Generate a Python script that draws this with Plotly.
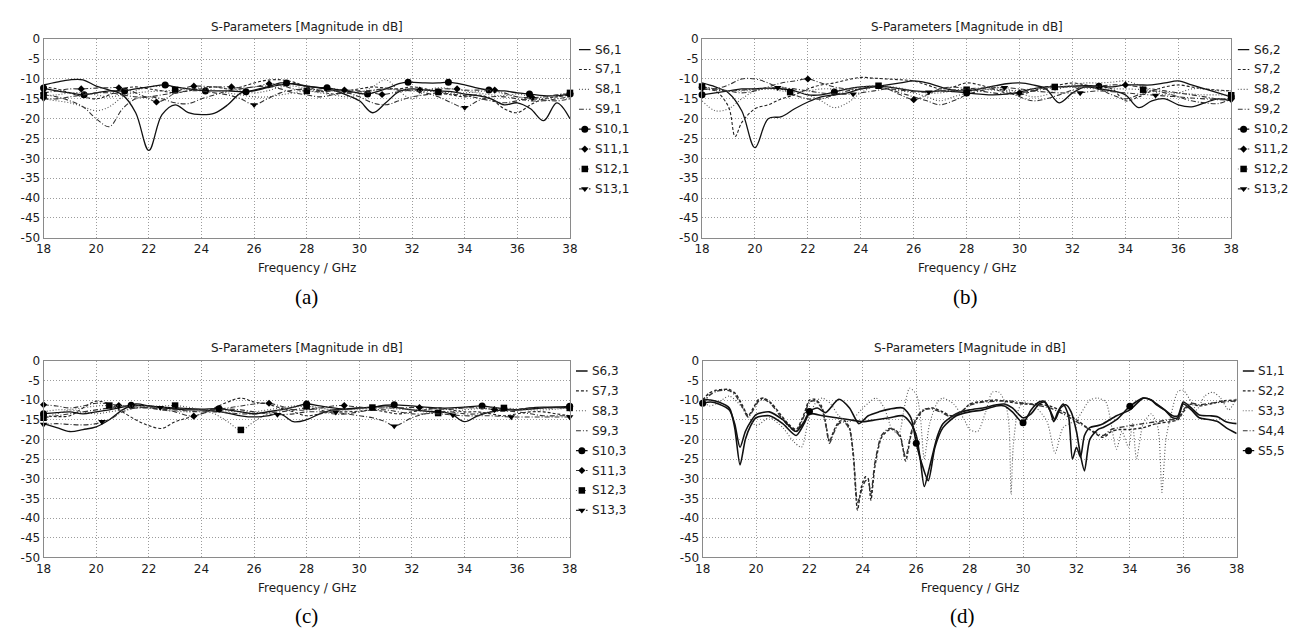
import plotly.graph_objects as go

W, H = 1299, 637
FONT = "DejaVu Sans"

# ---------------- data ----------------
freq = [18.0, 18.5, 19.0, 19.5, 20.0, 20.5, 21.0, 21.5, 22.0, 22.5,
        23.0, 23.5, 24.0, 24.5, 25.0, 25.5, 26.0, 26.5, 27.0, 27.5,
        28.0, 28.5, 29.0, 29.5, 30.0, 30.5, 31.0, 31.5, 32.0, 32.5,
        33.0, 33.5, 34.0, 34.5, 35.0, 35.5, 36.0, 36.5, 37.0, 37.5, 38.0]

x_ticks = [18, 20, 22, 24, 26, 28, 30, 32, 34, 36, 38]
y_ticks = [0, -5, -10, -15, -20, -25, -30, -35, -40, -45, -50]

# panel (a)
a_s6 = [-11.5, -10.8, -10.2, -10.2, -11.8, -12.8, -14.0, -18.5, -28.0, -19.0,
        -16.5, -18.5, -19.0, -18.6, -16.5, -13.5, -13.0, -12.2, -11.5, -11.2,
        -11.8, -12.3, -12.8, -14.0, -15.5, -18.5, -16.0, -13.2, -12.5, -12.8,
        -13.0, -13.2, -13.8, -14.2, -15.0, -16.5, -16.0, -17.5, -20.5, -16.0, -20.0]
a_s7 = [-12.0, -12.5, -13.5, -14.5, -15.0, -14.0, -12.5, -12.0, -12.5, -13.0,
        -13.5, -13.0, -12.5, -12.0, -12.5, -12.0, -11.0, -10.3, -10.2, -10.8,
        -12.0, -13.0, -13.8, -13.0, -12.5, -12.0, -12.3, -12.5, -12.0, -12.5,
        -13.5, -14.0, -14.5, -14.0, -15.0, -17.5, -18.5, -16.5, -15.0, -14.5, -14.0]
a_s8 = [-15.0, -15.5, -16.0, -17.0, -18.0, -17.0, -14.5, -13.0, -12.0, -11.8,
        -12.0, -12.5, -12.2, -12.0, -12.5, -13.0, -13.5, -13.0, -12.0, -11.8,
        -12.5, -13.0, -12.5, -13.0, -13.5, -12.0, -10.2, -13.0, -15.0, -13.0,
        -12.2, -12.5, -13.0, -13.5, -14.0, -14.2, -13.8, -14.5, -15.0, -14.5, -14.0]
a_s9 = [-14.0, -14.5, -15.5, -17.0, -20.0, -22.0, -17.5, -15.0, -14.5, -15.0,
        -16.0, -16.2, -15.0, -14.0, -13.0, -12.5, -12.0, -11.8, -12.5, -13.5,
        -14.0, -14.5, -14.0, -13.5, -14.5, -16.0, -16.5, -15.5, -14.5, -14.0,
        -13.5, -13.8, -14.2, -14.8, -15.5, -16.0, -15.5, -15.0, -15.3, -15.5, -15.0]
a_s10 = [-12.3, -13.0, -13.5, -14.0, -13.5, -13.0, -13.0, -12.5, -12.0, -11.5,
         -12.0, -12.5, -13.0, -13.0, -13.0, -13.2, -12.8, -12.0, -11.0, -11.3,
         -11.8, -12.2, -12.5, -13.0, -13.6, -13.5, -12.5, -11.2, -10.8, -11.0,
         -11.0, -11.0, -11.5, -12.3, -12.8, -13.0, -13.5, -14.0, -14.2, -14.2, -13.8]
a_s11 = [-13.5, -13.0, -12.5, -12.5, -12.3, -12.2, -12.3, -13.5, -15.0, -15.5,
         -13.5, -12.0, -11.8, -12.0, -12.0, -12.3, -12.0, -11.3, -11.5, -12.5,
         -13.0, -13.2, -13.0, -12.8, -13.0, -13.5, -13.8, -13.2, -12.8, -12.8,
         -12.5, -12.5, -12.8, -12.8, -12.8, -13.5, -14.5, -14.7, -14.5, -14.0, -13.7]
a_s12 = [-14.2, -14.0, -13.5, -13.5, -14.0, -14.5, -14.0, -13.5, -13.2, -13.0,
         -12.8, -12.5, -12.5, -12.8, -13.5, -14.0, -14.5, -14.5, -14.0, -13.5,
         -13.0, -13.5, -14.0, -14.5, -14.0, -13.0, -12.5, -12.5, -12.8, -13.0,
         -13.3, -13.5, -13.5, -13.2, -13.0, -13.8, -14.5, -15.0, -14.5, -14.0, -13.5]
a_s13 = [-15.0, -15.0, -14.5, -14.0, -13.5, -13.5, -14.0, -14.5, -14.5, -14.0,
         -13.5, -13.0, -13.0, -13.5, -14.0, -15.0, -16.5, -15.0, -13.5, -12.8,
         -12.5, -12.8, -13.0, -13.5, -13.2, -12.8, -12.5, -12.8, -13.0, -13.5,
         -14.5, -16.0, -17.2, -15.5, -14.5, -14.5, -15.0, -15.5, -15.5, -15.0, -14.5]
a_s10_mf = [18, 19.54, 21.08, 22.62, 24.15, 25.69, 27.23, 28.77, 30.31, 31.85, 33.38, 34.92, 36.46, 38]
a_s10_mv = [-12.3, -14.0, -13.0, -11.5, -13.0, -13.2, -11.0, -12.2, -13.8, -10.8, -10.8, -12.8, -13.8, -13.8]
a_s11_mf = [18, 19.43, 20.86, 22.29, 23.71, 25.14, 26.57, 28, 29.43, 30.86, 32.29, 33.71, 35.14, 36.57, 38]
a_s11_mv = [-13.5, -12.5, -12.2, -15.8, -11.8, -12.0, -11.2, -13.0, -12.8, -13.9, -12.8, -12.5, -12.8, -14.7, -13.7]
a_s12_mf = [18, 23, 28, 33, 38]
a_s12_mv = [-14.2, -12.8, -13.0, -13.3, -13.5]
a_s13_mf = [18, 26, 34]
a_s13_mv = [-15.0, -16.5, -17.2]

# panel (b)
b_s6 = [-11.0, -12.0, -13.5, -18.0, -27.3, -20.0, -19.5, -17.5, -15.8, -14.5,
        -14.0, -13.5, -12.5, -12.0, -11.5, -11.0, -10.5, -11.0, -12.0, -12.8,
        -13.0, -12.5, -11.8, -11.2, -11.0, -11.5, -12.5, -16.0, -13.5, -12.0,
        -12.5, -13.0, -14.0, -17.2, -15.5, -15.0, -16.5, -17.0, -16.0, -15.0, -15.5]
b_s7 = [-12.5, -13.0, -17.0, -21.0, -17.5, -16.5, -15.0, -14.0, -12.5, -11.5,
        -11.0, -10.2, -9.6, -9.8, -10.0, -10.2, -10.5, -11.5, -12.5, -12.0,
        -11.0, -11.5, -12.5, -13.5, -14.0, -13.0, -12.0, -11.5, -11.0, -11.5,
        -12.0, -12.5, -15.5, -14.5, -13.0, -12.0, -11.5, -12.0, -12.5, -12.8, -13.0]
b_s7_xf = [19.25]
b_s7_xv = [-24.5]
b_s8 = [-15.5, -18.0, -17.5, -15.0, -13.0, -12.5, -12.0, -13.0, -14.0, -15.5,
        -17.2, -16.0, -13.5, -12.0, -12.5, -13.0, -13.5, -14.5, -15.5, -14.5,
        -13.5, -12.5, -12.0, -12.5, -13.5, -14.5, -14.0, -12.5, -11.5, -11.0,
        -11.0, -10.8, -10.5, -11.5, -13.0, -14.0, -13.5, -12.5, -12.5, -13.0, -13.0]
b_s9 = [-12.5, -12.5, -11.5, -10.0, -10.0, -11.0, -12.5, -14.0, -15.0, -15.0,
        -14.0, -13.0, -12.5, -12.0, -12.5, -13.5, -14.5, -15.5, -16.5, -15.5,
        -14.0, -13.0, -12.5, -13.0, -14.5, -15.5, -15.0, -14.0, -12.8, -12.0,
        -12.5, -14.0, -15.0, -14.0, -13.0, -13.5, -14.5, -15.5, -16.0, -16.2, -15.0]
b_s10 = [-14.0, -13.5, -13.0, -12.5, -12.5, -12.3, -12.5, -13.0, -14.0, -14.0,
         -13.3, -12.5, -12.0, -11.8, -12.0, -12.5, -13.0, -13.2, -13.0, -13.2,
         -13.5, -13.8, -14.0, -13.8, -13.3, -12.5, -12.0, -12.0, -11.8, -11.7,
         -11.8, -12.0, -11.5, -11.5, -11.5, -11.0, -10.5, -11.5, -12.5, -13.5, -14.5]
b_s11 = [-12.0, -12.5, -13.0, -13.5, -13.0, -12.0, -11.0, -10.5, -10.0, -11.0,
         -12.0, -12.5, -12.5, -12.0, -12.5, -14.0, -15.2, -14.0, -12.5, -12.0,
         -12.5, -13.0, -13.5, -13.8, -13.5, -13.0, -12.5, -12.0, -12.0, -12.0,
         -11.8, -11.5, -11.5, -12.0, -12.5, -13.0, -13.5, -14.0, -14.5, -15.0, -15.0]
b_s12 = [-11.9, -12.5, -13.0, -13.0, -12.8, -12.5, -13.0, -13.5, -13.0, -12.5,
         -12.5, -12.5, -12.0, -11.7, -11.8, -12.3, -13.0, -13.5, -13.5, -13.0,
         -12.7, -12.5, -12.8, -13.0, -12.8, -12.5, -12.2, -12.0, -12.0, -12.3,
         -12.5, -12.5, -12.5, -12.7, -13.0, -13.3, -13.5, -13.8, -14.0, -14.0, -14.1]
b_s13 = [-12.5, -12.8, -13.0, -12.8, -12.5, -12.3, -12.2, -12.5, -13.0, -13.5,
         -13.8, -13.8, -13.5, -13.0, -12.5, -12.8, -13.2, -13.3, -13.0, -12.8,
         -12.5, -12.3, -12.2, -12.2, -12.5, -13.0, -13.3, -13.5, -13.5, -13.3,
         -13.0, -13.2, -13.5, -13.8, -14.1, -14.3, -14.5, -14.8, -15.0, -15.2, -15.3]
b_s10_mf = [18, 23, 28, 33, 38]
b_s10_mv = [-14.0, -13.3, -13.5, -11.8, -14.5]
b_s11_mf = [18, 22, 26, 30, 34, 38]
b_s11_mv = [-12.0, -10.0, -15.2, -13.5, -11.5, -15.0]
b_s12_mf = [18, 21.33, 24.67, 28, 31.33, 34.67, 38]
b_s12_mv = [-11.9, -13.3, -11.7, -12.7, -12.0, -12.7, -14.1]
b_s13_mf = [18, 20.86, 23.71, 26.57, 29.43, 32.29, 35.14, 38]
b_s13_mv = [-12.5, -12.2, -13.8, -13.3, -12.2, -13.5, -14.1, -15.3]

# panel (c)
c_s6 = [-16.0, -17.0, -18.0, -17.5, -16.8, -15.0, -12.5, -11.0, -11.5, -12.0,
        -12.3, -12.5, -12.5, -12.8, -13.3, -14.0, -14.3, -14.0, -13.5, -15.5,
        -15.0, -13.5, -12.5, -12.3, -12.0, -11.8, -11.5, -12.0, -12.5, -12.8,
        -13.0, -13.5, -15.5, -14.0, -13.0, -12.5, -12.5, -12.0, -11.8, -11.8, -12.0]
c_s7 = [-14.0, -14.2, -14.0, -12.0, -10.3, -11.0, -13.0, -15.0, -16.5, -17.2,
        -15.5, -14.5, -13.5, -12.0, -10.5, -9.5, -10.5, -11.0, -12.0, -13.0,
        -14.0, -13.5, -13.0, -13.0, -12.8, -12.5, -13.0, -13.5, -13.0, -12.5,
        -12.0, -12.5, -13.0, -13.0, -13.5, -14.0, -13.5, -13.0, -13.0, -13.5, -14.0]
c_s8 = [-13.0, -12.5, -12.5, -13.0, -13.5, -13.0, -12.5, -12.0, -12.0, -12.5,
        -12.8, -13.0, -12.8, -12.5, -12.8, -13.0, -13.0, -12.5, -12.0, -11.5,
        -11.5, -12.0, -12.5, -12.5, -12.3, -12.0, -11.8, -12.0, -12.3, -12.5,
        -12.5, -12.3, -12.0, -12.0, -12.3, -12.5, -12.5, -12.3, -12.0, -12.0, -12.0]
c_s9 = [-14.5, -14.0, -13.5, -13.0, -12.5, -12.0, -11.5, -11.5, -12.0, -12.3,
        -12.5, -12.8, -13.0, -13.0, -13.2, -13.5, -13.5, -13.2, -13.0, -12.5,
        -12.0, -12.5, -13.5, -13.5, -13.0, -12.5, -12.5, -13.0, -13.5, -13.5,
        -13.0, -13.0, -13.5, -13.5, -13.0, -12.8, -13.0, -13.5, -14.0, -14.0, -14.0]
c_s10 = [-13.5, -13.2, -13.0, -13.5, -13.0, -12.5, -11.8, -11.3, -11.5, -11.8,
         -12.0, -12.2, -12.3, -12.2, -12.5, -13.0, -13.5, -13.0, -12.5, -11.8,
         -11.0, -11.5, -12.0, -12.3, -12.0, -11.8, -11.3, -11.2, -11.5, -11.8,
         -12.0, -12.0, -11.8, -11.5, -11.8, -12.2, -12.5, -12.3, -12.0, -11.8, -11.6]
c_s11 = [-11.2, -11.5, -12.0, -11.5, -10.8, -11.0, -11.5, -12.0, -12.0, -12.5,
         -13.0, -14.0, -13.5, -12.5, -12.0, -11.5, -11.0, -10.8, -11.5, -12.5,
         -12.5, -12.0, -11.5, -11.4, -11.8, -12.0, -12.0, -12.0, -11.9, -12.0,
         -12.3, -12.3, -12.0, -12.0, -12.4, -12.5, -12.3, -12.0, -12.0, -12.0, -12.0]
c_s12 = [-14.5, -13.5, -12.5, -12.0, -11.5, -11.4, -11.5, -11.5, -11.5, -11.5,
         -11.4, -11.8, -12.5, -13.5, -15.5, -17.6, -15.5, -13.5, -12.5, -11.8,
         -11.6, -12.0, -12.5, -12.5, -12.2, -11.9, -12.0, -12.3, -12.5, -13.0,
         -13.3, -13.0, -12.5, -12.2, -12.0, -12.0, -12.3, -12.5, -12.5, -12.3, -12.0]
c_s13 = [-16.2, -16.0, -16.2, -16.3, -16.0, -15.0, -13.0, -12.0, -11.8, -11.9,
         -12.0, -12.3, -12.5, -12.5, -12.3, -12.5, -13.0, -13.5, -13.8, -13.5,
         -13.0, -13.0, -13.1, -13.5, -14.0, -14.5, -15.5, -16.3, -14.5, -13.5,
         -13.5, -13.8, -14.0, -14.0, -14.0, -14.2, -14.3, -14.3, -14.3, -14.3, -14.3]
c_s10_mf = [18, 21.33, 24.67, 28, 31.33, 34.67, 38]
c_s10_mv = [-13.5, -11.3, -12.2, -11.0, -11.2, -11.5, -11.6]
c_s11_mf = [18, 20.86, 23.71, 26.57, 29.43, 32.29, 35.14, 38]
c_s11_mv = [-11.2, -11.4, -14.1, -10.8, -11.4, -11.9, -12.4, -12.0]
c_s12_mf = [18, 20.5, 23, 25.5, 28, 30.5, 33, 35.5, 38]
c_s12_mv = [-14.5, -11.4, -11.4, -17.6, -11.6, -11.9, -13.3, -12.0, -12.0]
c_s13_mf = [18, 20.22, 22.44, 24.67, 26.89, 29.11, 31.33, 33.56, 35.78, 38]
c_s13_mv = [-16.2, -15.5, -11.9, -12.4, -13.7, -13.1, -16.6, -13.8, -14.3, -14.3]

# panel (d)
d_s1_f = [18, 18.3, 18.6, 19.0, 19.2, 19.4, 19.6, 19.8, 20.0, 20.5,
          21.0, 21.5, 21.8, 22.0, 22.5, 23.0, 23.5, 24.0, 24.5, 25.0,
          25.5, 25.8, 26.0, 26.15, 26.3, 26.5, 26.8, 27.0, 27.5, 28.0,
          28.5, 29.0, 29.3, 29.6, 30.0, 30.3, 30.6, 30.8, 31.0, 31.15,
          31.3, 31.5, 31.7, 31.85, 32.0, 32.15, 32.3, 32.5, 32.8, 33.0,
          33.5, 34.0, 34.5, 34.8, 35.0, 35.3, 35.6, 35.8, 36.0, 36.3,
          36.6, 37.0, 37.3, 37.6, 38.0]
d_s1_v = [-9.8, -10.0, -10.5, -12.0, -17.0, -26.5, -20.0, -16.5, -14.5, -14.0,
          -16.0, -19.0, -16.0, -13.5, -14.0, -14.5, -15.0, -15.5, -15.0, -14.5,
          -14.0, -16.0, -19.0, -25.0, -32.0, -27.0, -19.0, -16.0, -13.5, -12.5,
          -12.0, -11.2, -11.0, -12.0, -14.5, -13.5, -11.0, -10.5, -12.5, -15.5,
          -13.0, -11.0, -14.0, -25.0, -22.0, -24.5, -19.0, -17.0, -16.5, -16.0,
          -14.0, -12.5, -9.5, -10.0, -11.0, -12.5, -14.5, -14.5, -11.0, -12.5,
          -14.5, -15.0, -15.5, -17.0, -18.5]
d_s5_f = [18, 18.3, 18.6, 19.0, 19.2, 19.4, 19.6, 19.8, 20.0, 20.5,
          21.0, 21.5, 21.8, 22.0, 22.3, 22.6, 23.1, 23.5, 23.85, 24.2,
          24.6, 25.0, 25.5, 25.8, 26.0, 26.2, 26.45, 26.7, 27.0, 27.5,
          28.0, 28.5, 29.0, 29.3, 29.6, 30.0, 30.3, 30.6, 30.8, 31.0,
          31.2, 31.4, 31.6, 31.8, 32.0, 32.15, 32.3, 32.5, 32.8, 33.0,
          33.5, 34.0, 34.5, 34.8, 35.0, 35.3, 35.6, 35.8, 36.0, 36.3,
          36.6, 37.0, 37.3, 37.6, 38.0]
d_s5_v = [-10.8, -10.5, -11.0, -12.5, -16.0, -22.0, -18.0, -15.5, -13.7, -13.0,
          -15.0, -18.0, -15.5, -12.9, -12.0, -13.2, -9.8, -12.0, -16.0, -14.0,
          -13.0, -12.3, -12.0, -14.5, -21.0, -26.0, -30.5, -22.0, -17.0, -14.0,
          -13.0, -12.5, -11.5, -11.5, -13.0, -15.8, -12.5, -10.5, -10.3, -12.5,
          -15.0, -12.0, -11.2, -13.0, -18.0, -24.0, -28.0, -20.0, -17.5, -17.0,
          -15.0, -11.6, -9.5, -10.0, -11.2, -12.5, -14.0, -14.0, -10.5, -12.0,
          -13.8, -14.0, -14.3, -15.5, -16.0]
d_s5_mf = [18, 22, 26, 30, 34]
d_pair_f = [18, 18.25, 18.5, 18.75, 19.0, 19.25, 19.5, 19.7, 19.9, 20.1,
            20.3, 20.6, 20.9, 21.2, 21.5, 21.8, 22.0, 22.2, 22.45, 22.6,
            22.75, 22.9, 23.1, 23.3, 23.5, 23.65, 23.8, 23.95, 24.1, 24.2,
            24.3, 24.45, 24.7, 25.0, 25.2, 25.4, 25.6, 25.8, 26.0, 26.3,
            26.6, 27.0, 27.3, 27.7, 28.0, 28.5, 29.0, 29.5, 30.0, 30.5,
            31.0, 31.5, 32.0, 32.5, 33.0, 33.3, 33.6, 34.0, 34.5, 35.0,
            35.5, 35.8, 36.0, 36.3, 36.6, 37.0, 37.5, 38.0]
d_s2_v = [-10.0, -8.2, -7.5, -7.3, -7.3, -8.5, -11.5, -14.0, -12.0, -9.8,
          -9.5, -11.0, -13.5, -16.0, -17.5, -13.5, -10.0, -9.8, -11.5, -15.5,
          -20.5, -18.0, -15.5, -15.2, -17.0, -25.0, -38.0, -32.0, -29.5, -30.0,
          -35.5, -27.0, -19.5, -17.5, -17.5, -19.0, -25.5, -19.0, -15.0, -12.5,
          -12.0, -13.0, -14.0, -13.0, -11.0, -10.3, -10.0, -10.5, -11.0, -11.0,
          -11.5, -13.0, -15.0, -17.5, -19.5, -18.0, -17.5, -17.5, -17.0, -16.0,
          -15.5, -15.0, -13.0, -11.0, -11.5, -11.0, -10.2, -10.0]
d_s4_v = [-11.0, -8.8, -7.8, -7.5, -7.6, -9.0, -12.0, -14.3, -12.5, -10.2,
          -9.8, -11.3, -14.0, -16.5, -18.0, -14.0, -10.5, -10.2, -12.0, -16.0,
          -21.0, -18.5, -16.0, -15.6, -17.5, -24.0, -36.0, -33.0, -30.5, -30.5,
          -34.0, -26.0, -19.0, -17.2, -17.8, -19.5, -24.5, -18.5, -14.5, -12.3,
          -12.3, -13.3, -14.3, -12.8, -11.3, -10.5, -10.3, -10.2, -10.8, -11.3,
          -12.0, -13.5, -15.5, -17.5, -19.0, -17.5, -17.0, -16.5, -16.0, -15.5,
          -15.0, -14.8, -12.5, -10.8, -11.2, -10.8, -10.5, -10.2]
d_s3_f = [18, 18.25, 18.5, 19.0, 19.5, 20.0, 20.5, 21.0, 21.4, 21.7,
          22.0, 22.3, 22.5, 22.8, 23.1, 23.5, 24.0, 24.5, 24.8, 25.1,
          25.35, 25.55, 25.75, 26.0, 26.15, 26.3, 26.5, 26.8, 27.0, 27.4,
          27.8, 28.0, 28.3, 28.6, 28.85, 29.1, 29.35, 29.48, 29.55, 29.63,
          29.8, 30.0, 30.5, 30.9, 31.2, 31.5, 32.0, 32.5, 32.8, 33.1,
          33.5, 33.7, 33.95, 34.1, 34.25, 34.5, 34.8, 35.05, 35.2, 35.35,
          35.55, 35.8, 36.0, 36.3, 36.5, 36.8, 37.1, 37.4, 37.7, 38.0]
d_s3_v = [-10.0, -11.5, -11.0, -9.0, -12.0, -16.5, -14.5, -17.0, -20.5, -22.0,
          -14.0, -10.0, -9.5, -11.0, -14.0, -15.5, -12.0, -9.5, -12.0, -17.5,
          -18.5, -12.0, -7.0, -8.5, -14.0, -25.0, -16.0, -10.5, -9.5, -11.0,
          -15.0, -17.5, -18.0, -13.0, -8.0, -8.0, -11.0, -17.0, -34.0, -22.0,
          -13.0, -10.5, -12.0, -15.5, -23.5, -17.0, -15.0, -10.0, -9.5, -10.5,
          -22.5, -18.0, -22.0, -16.0, -25.0, -16.0, -13.5, -17.0, -33.5, -20.0,
          -13.5, -7.8, -7.5, -10.5, -12.5, -9.0, -8.0, -9.5, -12.5, -9.5]

# ---------------- styles ----------------
ST = {
    "solid":  dict(dash="solid", width=1.3, color="#111111"),
    "dash":   dict(dash="3px,2px", width=1.1, color="#222222"),
    "dot":    dict(dash="1px,2px", width=1.1, color="#555555"),
    "dashdot": dict(dash="5px,2px,1px,2px", width=1.1, color="#333333"),
}


def merge(gf, gv, mf, mv):
    if mf:
        keep = [(f, v) for f, v in zip(gf, gv) if min(abs(f - m) for m in mf) > 0.2]
    else:
        keep = list(zip(gf, gv))
    pts = sorted(keep + list(zip(mf, mv)))
    return [p[0] for p in pts], [p[1] for p in pts]


def std_series(sfx, s6, s7, s8, s9, s10, s11, s12, s13, mk, extra7=None):
    out = []
    out.append(("S6," + sfx, freq, s6, "solid", None, [], []))
    if extra7:
        fx, fv = merge(freq, s7, extra7[0], extra7[1])
        out.append(("S7," + sfx, fx, fv, "dash", None, [], []))
    else:
        out.append(("S7," + sfx, freq, s7, "dash", None, [], []))
    out.append(("S8," + sfx, freq, s8, "dot", None, [], []))
    out.append(("S9," + sfx, freq, s9, "dashdot", None, [], []))
    for name, vals, sty, sym, (mf, mv) in [
        ("S10," + sfx, s10, "solid", "circle", mk[0]),
        ("S11," + sfx, s11, "dashdot", "diamond", mk[1]),
        ("S12," + sfx, s12, "dot", "square", mk[2]),
        ("S13," + sfx, s13, "dashdot", "triangle-down", mk[3]),
    ]:
        fx, fv = merge(freq, vals, mf, mv)
        out.append((name, fx, fv, sty, sym, mf, mv))
    return out


panels = [
    dict(px=(36, 569), py=(33, 236), leg=578,
         series=std_series("1", a_s6, a_s7, a_s8, a_s9, a_s10, a_s11, a_s12, a_s13,
                           [(a_s10_mf, a_s10_mv), (a_s11_mf, a_s11_mv),
                            (a_s12_mf, a_s12_mv), (a_s13_mf, a_s13_mv)])),
    dict(px=(702.7, 1238.5), py=(33, 236), leg=1245,
         series=std_series("2", b_s6, b_s7, b_s8, b_s9, b_s10, b_s11, b_s12, b_s13,
                           [(b_s10_mf, b_s10_mv), (b_s11_mf, b_s11_mv),
                            (b_s12_mf, b_s12_mv), (b_s13_mf, b_s13_mv)],
                           extra7=(b_s7_xf, b_s7_xv))),
    dict(px=(36, 568.7), py=(361.7, 562.7), leg=575,
         series=std_series("3", c_s6, c_s7, c_s8, c_s9, c_s10, c_s11, c_s12, c_s13,
                           [(c_s10_mf, c_s10_mv), (c_s11_mf, c_s11_mv),
                            (c_s12_mf, c_s12_mv), (c_s13_mf, c_s13_mv)])),
    dict(px=(703.3, 1244), py=(361.7, 562.7), leg=1250,
         series=[
             ("S1,1", d_s1_f, d_s1_v, "solid", None, [], []),
             ("S2,2", d_pair_f, d_s2_v, "dash", None, [], []),
             ("S3,3", d_s3_f, d_s3_v, "dot", None, [], []),
             ("S4,4", d_pair_f, d_s4_v, "dashdot", None, [], []),
             ("S5,5", d_s5_f, d_s5_v, "solid", "circle", d_s5_mf,
              [d_s5_v[d_s5_f.index(m)] for m in d_s5_mf]),
         ]),
]
captions = ["(a)", "(b)", "(c)", "(d)"]
cap_pos = [(302, 297), (969, 297), (302, 623), (966, 623)]

MK_SIZE = {"circle": 7, "diamond": 5.5, "square": 6.5, "triangle-down": 6.5}

fig = go.Figure()
layout = dict(width=W, height=H, margin=dict(l=0, r=0, t=0, b=0),
              paper_bgcolor="white", plot_bgcolor="white", showlegend=False,
              font=dict(family=FONT, size=12, color="#1a1a1a"))
annotations = []

for i, p in enumerate(panels):
    k = i + 1
    lk = i + 5
    x0, x1 = p["px"]
    y0, y1 = p["py"]
    xa = "xaxis" if k == 1 else "xaxis%d" % k
    ya = "yaxis" if k == 1 else "yaxis%d" % k
    xr = "x" if k == 1 else "x%d" % k
    yr = "y" if k == 1 else "y%d" % k
    axis_common = dict(showgrid=True, gridcolor="#9c9c9c", griddash="1px,2px", gridwidth=1,
                       showline=True, mirror=True, linecolor="#8a8a8a", linewidth=1,
                       zeroline=False, ticks="", tickfont=dict(family=FONT, size=12, color="#1a1a1a"))
    layout[xa] = dict(domain=[x0 / W, x1 / W], range=[18, 38], anchor=yr,
                      tickvals=x_ticks, ticktext=[str(t) for t in x_ticks], **axis_common)
    layout[ya] = dict(domain=[1 - y1 / H, 1 - y0 / H], range=[-50, 0], anchor=xr,
                      tickvals=y_ticks, ticktext=[str(t) for t in y_ticks], **axis_common)

    for name, fx, fv, sty, sym, mf, mv in p["series"]:
        s = ST[sty]
        wdt = s["width"] + (0.3 if k == 4 and sty != "dot" else 0)
        fig.add_trace(go.Scatter(x=fx, y=fv, mode="lines", xaxis=xr, yaxis=yr,
                                 line=dict(color=s["color"], width=wdt, dash=s["dash"],
                                           shape="spline", smoothing=0.7 if k == 4 else 1.0),
                                 hoverinfo="skip"))
        if sym:
            fig.add_trace(go.Scatter(x=mf, y=mv, mode="markers", xaxis=xr, yaxis=yr,
                                     marker=dict(symbol=sym, size=MK_SIZE[sym], color="#000000"),
                                     cliponaxis=False, hoverinfo="skip"))

    # legend block (drawn on its own small axes)
    lxa, lya = "xaxis%d" % lk, "yaxis%d" % lk
    lxr, lyr = "x%d" % lk, "y%d" % lk
    layout[lxa] = dict(domain=[p["leg"] / W, (p["leg"] + 12) / W], range=[0, 1], anchor=lyr,
                       visible=False, fixedrange=True)
    layout[lya] = dict(domain=[1 - y1 / H, 1 - y0 / H], range=[y1, y0], anchor=lxr,
                       visible=False, fixedrange=True)
    for j, (name, fx, fv, sty, sym, mf, mv) in enumerate(p["series"]):
        row = y0 + 10.5 + 20.35 * j
        s = ST[sty]
        fig.add_trace(go.Scatter(x=[0, 1], y=[row, row], mode="lines", xaxis=lxr, yaxis=lyr,
                                 line=dict(color=s["color"], width=s["width"], dash=s["dash"]),
                                 cliponaxis=False, hoverinfo="skip"))
        if sym:
            fig.add_trace(go.Scatter(x=[0.5], y=[row], mode="markers", xaxis=lxr, yaxis=lyr,
                                     marker=dict(symbol=sym, size=MK_SIZE[sym], color="#000000"),
                                     cliponaxis=False, hoverinfo="skip"))
        annotations.append(dict(x=1, y=row, xref=lxr, yref=lyr, text=name, showarrow=False,
                                xanchor="left", yanchor="middle", xshift=2,
                                font=dict(family=FONT, size=12, color="#1a1a1a")))

    cx = (x0 + x1) / 2
    annotations.append(dict(x=cx / W, y=1 - (y0 - 13) / H, xref="paper", yref="paper",
                            text="S-Parameters [Magnitude in dB]", showarrow=False,
                            xanchor="center", yanchor="middle",
                            font=dict(family=FONT, size=12, color="#1a1a1a")))
    annotations.append(dict(x=cx / W, y=1 - (y1 + 31) / H, xref="paper", yref="paper",
                            text="Frequency / GHz", showarrow=False,
                            xanchor="center", yanchor="middle",
                            font=dict(family=FONT, size=12, color="#1a1a1a")))
    annotations.append(dict(x=cap_pos[i][0] / W, y=1 - cap_pos[i][1] / H, xref="paper", yref="paper",
                            text=captions[i], showarrow=False, xanchor="center", yanchor="middle",
                            font=dict(family="Liberation Serif", size=21, color="#000000")))

layout["annotations"] = annotations
fig.update_layout(**layout)
fig.write_html("out.html")
